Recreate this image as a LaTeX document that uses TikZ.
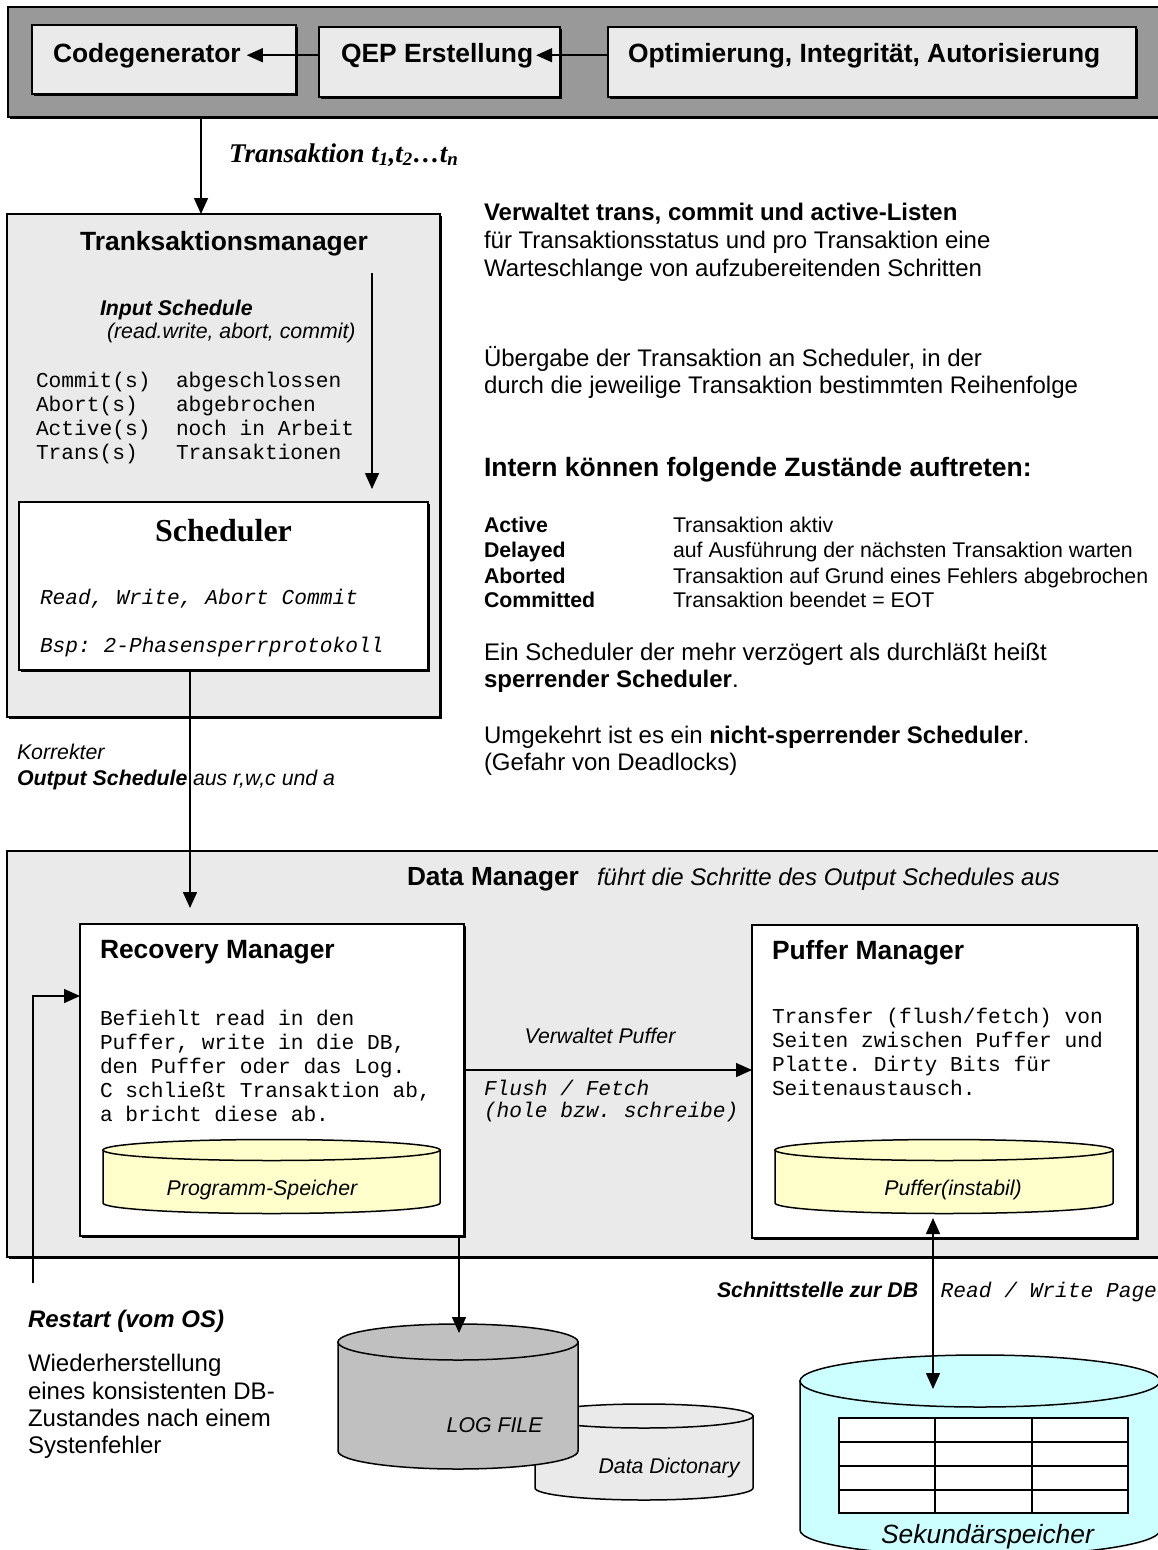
\documentclass[tikz,border=0pt]{standalone}
\usepackage{fontspec}
\setmainfont{Liberation Sans}
\setmonofont{Liberation Mono}
\newfontfamily\timesf{Liberation Serif}
\usetikzlibrary{shadows,arrows.meta,fit}
\definecolor{barg}{HTML}{999999}
\definecolor{lgray}{HTML}{EAEAEA}
\definecolor{yel}{HTML}{FFFFCC}
\definecolor{logg}{HTML}{C0C0C0}
\definecolor{skyc}{HTML}{CCFFFF}
% cylinder: x1, x2, y of top ellipse centre, y of bottom ellipse centre, ry, fill
\newcommand\dbcyl[6]{%
  \filldraw[cylline,fill=#6] (#1,#3) -- (#1,#4) arc[start angle=180,end angle=0,x radius={(#2-#1)/2},y radius=#5] -- (#2,#3) -- cycle;
  \filldraw[cylline,fill=#6] ({(#1+#2)/2},#3) ellipse[x radius={(#2-#1)/2},y radius=#5];}
\begin{document}
\begin{tikzpicture}[x=1pt,y=-1pt,
  txt/.style={inner sep=0pt, outer sep=0pt, anchor=base west},
  ctxt/.style={inner sep=0pt, outer sep=0pt, anchor=base},
  ttl/.style={font=\fontsize{26.4}{30}\selectfont\bfseries},
  body/.style={font=\fontsize{24}{28}\selectfont},
  bodyb/.style={font=\fontsize{24}{28}\selectfont\bfseries},
  bodybi/.style={font=\fontsize{24}{28}\selectfont\bfseries\itshape},
  bodyi/.style={font=\fontsize{24}{28}\selectfont\itshape},
  smallr/.style={font=\fontsize{21.3}{24}\selectfont},
  smallb/.style={font=\fontsize{21.3}{24}\selectfont\bfseries},
  smalli/.style={font=\fontsize{21.3}{24}\selectfont\itshape},
  smallbi/.style={font=\fontsize{21.3}{24}\selectfont\bfseries\itshape},
  mono/.style={font=\fontsize{21.2}{24}\selectfont\ttfamily},
  monoi/.style={font=\fontsize{21.2}{24}\selectfont\ttfamily\itshape},
  box/.style={draw=black, line width=1.4pt, inner sep=0pt, outer sep=0pt,
    drop shadow={shadow xshift=1.8pt, shadow yshift=-1.8pt, fill=black, opacity=1}},
  conn/.style={line width=1.5pt},
  tipA/.tip={Triangle[length=16pt,width=14pt]},
  arr/.style={conn, -tipA},
  darr/.style={conn, tipA-tipA},
  cylline/.style={draw=black, line width=1.5pt},
]
\fill[white] (0,0) rectangle (1158,1550);
\useasboundingbox (0,0) rectangle (1158,1550);

% ---------- top bar ----------
\node[box, fill=barg, fit={(8,7) (1170,117)}] (topbar) {};
\node[box, fill=lgray, fit={(32,25) (296,94)}] (cg) {};
\node[box, fill=lgray, fit={(319,27) (560,97)}] (qep) {};
\node[box, fill=lgray, fit={(608,27) (1136,97)}] (opt) {};
\node[txt, ttl] (cgT) at (53,62) {Codegenerator};
\node[txt, ttl] (qepT) at (341,62) {QEP Erstellung};
\node[txt, ttl] (optT) at (628,62) {Optimierung, Integrität, Autorisierung};
\draw[arr] (qep.west |- cgT.east) -- ([xshift=6pt]cgT.east);
\draw[arr] (opt.west |- qepT.east) -- ([xshift=3pt]qepT.east);

% ---------- Transaktionsmanager ----------
\node[box, fill=lgray, fit={(7,214) (440,717)}] (tm) {};
\coordinate (c1) at (201,0);
\draw[arr] (topbar.south -| c1) -- (tm.north -| c1);
\node[txt, font=\fontsize{27}{30}\selectfont\timesf\bfseries\itshape] (trT) at (229,162)
  {Transaktion t\textsubscript{1},t\textsubscript{2}…t\textsubscript{n}};
\node[ctxt, ttl] (tmT) at (224,250) {Tranksaktionsmanager};
\node[txt, smallbi] (isT) at (100,315.6) {Input Schedule};
\node[txt, smalli] (rwT) at (107,338.5) {(read.write, abort, commit)};
\node[txt, mono] (m1a) at (36,387.5) {Commit(s)};
\node[txt, mono] (m1b) at (176,387.5) {abgeschlossen};
\node[txt, mono] (m2a) at (36,411.6) {Abort(s)};
\node[txt, mono] (m2b) at (176,411.6) {abgebrochen};
\node[txt, mono] (m3a) at (36,435.4) {Active(s)};
\node[txt, mono] (m3b) at (176,435.4) {noch in Arbeit};
\node[txt, mono] (m4a) at (36,459) {Trans(s)};
\node[txt, mono] (m4b) at (176,459) {Transaktionen};
\node[box, fill=white, fit={(19,502) (428,670)}] (sched) {};
\coordinate (ia1) at (372,273);
\coordinate (ia2) at (372,489);
\draw[arr] (ia1) -- (ia2);
\node[ctxt, font=\fontsize{32}{36}\selectfont\timesf\bfseries] (schT) at (223.5,541.7) {Scheduler};
\node[txt, monoi] (rwacT) at (40,604.5) {Read, Write, Abort Commit};
\node[txt, monoi] (bspT) at (40,652) {Bsp: 2-Phasensperrprotokoll};
\node[txt, smalli] (korT) at (17,759.5) {Korrekter};
\node[txt, smallbi] (osT) at (17,785.5) {Output Schedule};
\node[txt, smalli] (ausT) at (193,785.5) {aus r,w,c und a};

% ---------- right-hand text ----------
\node[txt, bodyb] (r1) at (484,220.6) {Verwaltet trans, commit und active-Listen};
\node[txt, body] (r2) at (484,248) {für Transaktionsstatus und pro Transaktion eine};
\node[txt, body] (r3) at (484,276) {Warteschlange von aufzubereitenden Schritten};
\node[txt, body] (r4) at (484,366) {Übergabe der Transaktion an Scheduler, in der};
\node[txt, body] (r5) at (484,393) {durch die jeweilige Transaktion bestimmten Reihenfolge};
\node[txt, font=\fontsize{26.5}{30}\selectfont\bfseries] (r6) at (484,476) {Intern können folgende Zustände auftreten:};
\node[txt, smallb] (s1a) at (484,532.5) {Active};
\node[txt, smallr] (s1b) at (673,532.5) {Transaktion aktiv};
\node[txt, smallb] (s2a) at (484,557.4) {Delayed};
\node[txt, smallr] (s2b) at (673,557.4) {auf Ausführung der nächsten Transaktion warten};
\node[txt, smallb] (s3a) at (484,583) {Aborted};
\node[txt, smallr] (s3b) at (673,583) {Transaktion auf Grund eines Fehlers abgebrochen};
\node[txt, smallb] (s4a) at (484,607) {Committed};
\node[txt, smallr] (s4b) at (673,607) {Transaktion beendet = EOT};
\node[txt, body] (r7) at (484,660.7) {Ein Scheduler der mehr verzögert als durchläßt heißt};
\node[txt, body] (r8) at (484,687.5) {\textbf{sperrender Scheduler}.};
\node[txt, body] (r9) at (484,743) {Umgekehrt ist es ein \textbf{nicht-sperrender Scheduler}.};
\node[txt, body] (r10) at (484,770) {(Gefahr von Deadlocks)};

% ---------- Data Manager ----------
\node[box, fill=lgray, fit={(7,851) (1170,1257)}] (dm) {};
\node[txt, font=\fontsize{26.2}{30}\selectfont\bfseries] (dmT) at (407,885) {Data Manager};
\node[txt, bodyi] (dmT2) at (597,885) {führt die Schritte des Output Schedules aus};

\node[box, fill=white, fit={(80,924) (464,1236)}] (rm) {};
\node[txt, ttl] (rmT) at (100,958) {Recovery Manager};
\node[txt, mono] (rl1) at (100,1025.7) {Befiehlt read in den};
\node[txt, mono] (rl2) at (100,1049.3) {Puffer, write in die DB,};
\node[txt, mono] (rl3) at (100,1073.3) {den Puffer oder das Log.};
\node[txt, mono] (rl4) at (100,1097.3) {C schließt Transaktion ab,};
\node[txt, mono] (rl5) at (100,1121) {a bricht diese ab.};
\dbcyl{103}{440}{1150}{1203}{10.5}{yel}
\node[ctxt, smalli] (psT) at (262,1195) {Programm-Speicher};

\node[box, fill=white, fit={(752,925) (1137,1238)}] (pm) {};
\node[txt, ttl] (pmT) at (772,959) {Puffer Manager};
\node[txt, mono] (pl1) at (772,1023) {Transfer (flush/fetch) von};
\node[txt, mono] (pl2) at (772,1047) {Seiten zwischen Puffer und};
\node[txt, mono] (pl3) at (772,1071) {Platte. Dirty Bits für};
\node[txt, mono] (pl4) at (772,1095.5) {Seitenaustausch.};
\dbcyl{775}{1113}{1150}{1203}{10.5}{yel}
\node[ctxt, smalli] (piT) at (953,1195) {Puffer(instabil)};

\coordinate (c4) at (0,1070);
\draw[arr] (rm.east |- c4) -- (pm.west |- c4);
\node[ctxt, smalli] (vpT) at (600,1043) {Verwaltet Puffer};
\node[txt, monoi] (ffT) at (484,1095) {Flush / Fetch};
\node[txt, monoi] (hbT) at (484,1117) {(hole bzw. schreibe)};

\coordinate (c2) at (190,0);
\coordinate (c3) at (190,908);
\draw[arr] (sched.south -| c2) -- (c3);

\coordinate (rs) at (33,1283);
\coordinate (c5) at (0,996);
\draw[arr] (rs) |- (rm.west |- c5);

% ---------- storage ----------
\dbcyl{535}{753}{1416}{1488}{12}{lgray}
\dbcyl{338}{578}{1342}{1451}{18}{logg}
\node[ctxt, smalli] (logT) at (494.6,1432.7) {LOG FILE};
\node[ctxt, smalli] (ddT) at (669,1473) {Data Dictonary};
\coordinate (c6) at (459,0);
\coordinate (logtip) at (459,1333);
\draw[arr] (rm.south -| c6) -- (logtip);

\dbcyl{800}{1160}{1381}{1530}{26}{skyc}
\filldraw[fill=white, line width=1.5pt] (839,1418) rectangle (1128,1513);
\draw[line width=1.5pt] (935,1418) -- (935,1513) (1032,1418) -- (1032,1513)
  (839,1442) -- (1128,1442) (839,1466) -- (1128,1466) (839,1490) -- (1128,1490);
\node[ctxt, font=\fontsize{26.4}{30}\selectfont\itshape] (sekT) at (987.5,1543) {Sekundärspeicher};
\coordinate (pc) at (933,1218);
\coordinate (sk) at (933,1389);
\draw[darr] (pc) -- (sk);
\node[txt, smallbi] (sdbT) at (717,1297) {Schnittstelle zur DB};
\node[txt, monoi] (rwpT) at (940.7,1297) {Read / Write Page};

% ---------- restart text ----------
\node[txt, bodybi] (rsT) at (28,1327) {Restart (vom OS)};
\node[txt, body] (w1) at (28,1371.7) {Wiederherstellung};
\node[txt, body] (w2) at (28,1399) {eines konsistenten DB-};
\node[txt, body] (w3) at (28,1426.7) {Zustandes nach einem};
\node[txt, body] (w4) at (28,1453) {Systenfehler};
\end{tikzpicture}
\end{document}
